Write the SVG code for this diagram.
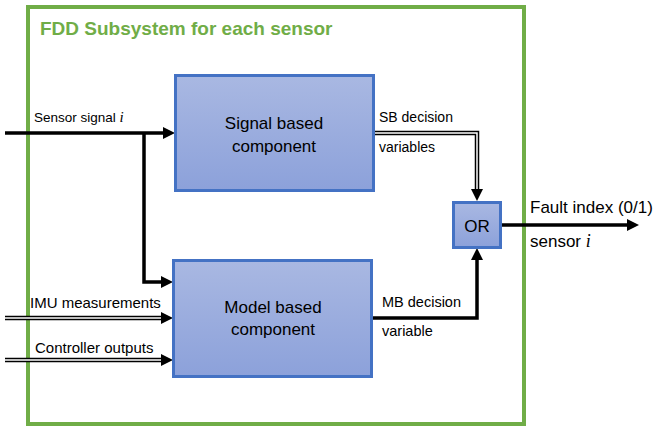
<svg xmlns="http://www.w3.org/2000/svg" width="654" height="428" viewBox="0 0 654 428">
<style>
.lbl{font-family:"Liberation Sans",Arial,sans-serif;fill:#000}
.mi{font-family:"Liberation Serif","Times New Roman",serif;font-style:italic}
.box{fill:url(#g);stroke:#4472C4;stroke-width:3}
.thick{fill:none;stroke:#000;stroke-width:3.5}
.dbl{fill:none;stroke:#000;stroke-width:4.5}
.dbl-in{fill:none;stroke:#fff;stroke-width:1.5}
</style>
<defs>
<linearGradient id="g" x1="0" y1="0" x2="0" y2="1">
<stop offset="0" stop-color="#A9B8E2"/>
<stop offset="1" stop-color="#8CA1DA"/>
</linearGradient>
<marker id="ah" markerUnits="userSpaceOnUse" viewBox="0 0 12 12" refX="0" refY="6" markerWidth="12" markerHeight="12" orient="auto">
<path d="M0,0 L12,6 L0,12 z" fill="#000"/>
</marker>
</defs>
<rect x="0" y="0" width="654" height="428" fill="#fff"/>
<g id="frame">
<rect x="28" y="7" width="496" height="417" fill="none" stroke="#70AD47" stroke-width="4"/>
<text x="40" y="35" font-family="Liberation Sans,Arial,sans-serif" font-weight="bold" font-size="19" fill="#70AD47">FDD Subsystem for each sensor</text>
</g>
<g id="connectors">
<path class="thick" d="M5,133 H163" marker-end="url(#ah)"/>
<path class="thick" d="M144,133 V282 H161" marker-end="url(#ah)" stroke-linejoin="miter"/>
<path class="dbl" d="M5,318 H161" marker-end="url(#ah)"/>
<path class="dbl-in" d="M5,318 H161"/>
<path class="dbl" d="M5,360 H161" marker-end="url(#ah)"/>
<path class="dbl-in" d="M5,360 H161"/>
<path class="dbl" d="M375,133 H477 V189" marker-end="url(#ah)"/>
<path class="dbl-in" d="M375,133 H477 V189"/>
<path class="thick" d="M373,318 H477 V260" marker-end="url(#ah)"/>
<path class="thick" d="M502,225 H627" marker-end="url(#ah)"/>
<text class="lbl" x="34" y="122" font-size="13.5">Sensor signal <tspan class="mi" font-size="15">i</tspan></text>
<text class="lbl" x="30" y="308" font-size="15">IMU measurements</text>
<text class="lbl" x="35" y="353" font-size="15">Controller outputs</text>
<text class="lbl" x="379" y="122" font-size="14">SB decision</text>
<text class="lbl" x="379" y="152" font-size="14">variables</text>
<text class="lbl" x="382" y="307" font-size="14.5">MB decision</text>
<text class="lbl" x="382" y="336" font-size="14.5">variable</text>
<text class="lbl" x="530" y="213" font-size="17">Fault index (0/1)</text>
<text class="lbl" x="530" y="247" font-size="17">sensor <tspan class="mi" font-size="18">i</tspan></text>
</g>
<g id="signal-based">
<rect class="box" x="175.5" y="75.5" width="198" height="115"/>
<text class="lbl" x="274" y="129" font-size="17" text-anchor="middle">Signal based</text>
<text class="lbl" x="274" y="152" font-size="17" text-anchor="middle">component</text>
</g>
<g id="model-based">
<rect class="box" x="173.5" y="260.5" width="198" height="116"/>
<text class="lbl" x="273" y="313" font-size="17" text-anchor="middle">Model based</text>
<text class="lbl" x="273" y="335" font-size="17" text-anchor="middle">component</text>
</g>
<g id="or">
<rect class="box" x="453.5" y="202.5" width="47" height="45"/>
<text class="lbl" x="477" y="232" font-size="17" text-anchor="middle">OR</text>
</g>
</svg>
